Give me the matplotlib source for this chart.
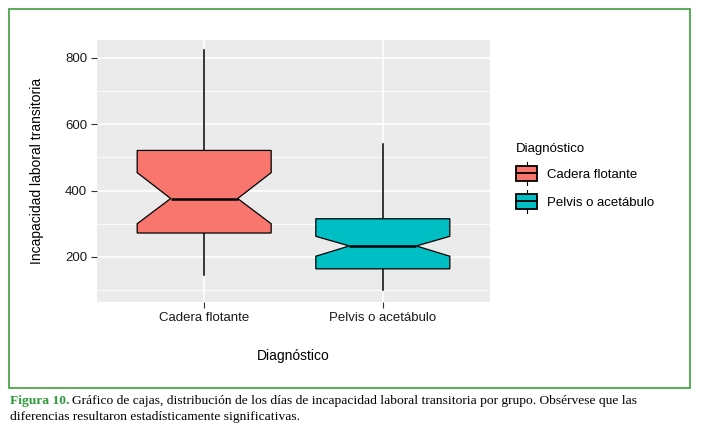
import numpy as np
import matplotlib
matplotlib.use("Agg")
import matplotlib.pyplot as plt
from matplotlib.patches import Rectangle
from matplotlib.lines import Line2D
from matplotlib.legend_handler import HandlerBase

# data
cats = ["Cadera flotante", "Pelvis o acetábulo"]
colors = ["#F8766D", "#00BFC4"]
whislo = [146, 100]
q1 = [272, 164]
med = [376, 233]
q3 = [521, 315]
whishi = [824, 539]
cilo = [300, 202]
cihi = [454, 262]
yticks = [200, 400, 600, 800]
yminor = [100, 300, 500, 700]

plt.rcParams["font.family"] = ["Liberation Sans", "DejaVu Sans"]

W, H = 702, 433
fig = plt.figure(figsize=(W / 100, H / 100), dpi=100)
ax = fig.add_axes([97 / W, 1 - 302 / H, 393 / W, 262 / H])
ax.set_facecolor("#EBEBEB")

stats = []
for i in range(len(cats)):
    stats.append(dict(med=med[i], q1=q1[i], q3=q3[i], whislo=whislo[i],
                      whishi=whishi[i], cilo=cilo[i], cihi=cihi[i],
                      fliers=[], label=cats[i]))

pos = np.arange(1, len(cats) + 1)
bp = ax.bxp(stats, positions=pos, widths=0.75, shownotches=True,
            patch_artist=True, showfliers=False, showcaps=False,
            boxprops=dict(edgecolor="black", linewidth=0.9),
            medianprops=dict(color="black", linewidth=1.8),
            whiskerprops=dict(color="black", linewidth=1.1))
for b, c in zip(bp["boxes"], colors):
    b.set_facecolor(c)
    b.set_zorder(3)
for m in bp["medians"]:
    m.set_zorder(4)

ax.set_xlim(0.4, len(cats) + 0.6)
ax.set_ylim(64, 854)
ax.set_yticks(yticks)
ax.set_yticks(yminor, minor=True)
ax.set_xticks(pos)
ax.set_xticklabels(cats)
ax.grid(True, which="major", color="white", linewidth=1.2, zorder=0)
ax.grid(True, which="minor", axis="y", color="white", linewidth=0.6, zorder=0)
ax.set_axisbelow(True)
for s in ax.spines.values():
    s.set_visible(False)
ax.tick_params(which="major", length=4, width=0.8, color="#333333",
               labelsize=9.5, labelcolor="#1a1a1a", pad=3)
ax.tick_params(which="minor", length=0)
ax.set_ylabel("Incapacidad laboral transitoria", fontsize=10, labelpad=15)
ax.set_xlabel("Diagnóstico", fontsize=10, labelpad=18)


class BoxKey(HandlerBase):
    # little boxplot glyph centred on the label text
    def create_artists(self, legend, orig, xd, yd, width, height, fontsize, trans):
        x0 = -xd
        cx = x0 + width / 2
        cy = 0.33 * fontsize
        bh = 1.12 * fontsize
        stub = 0.3 * fontsize
        r = Rectangle((x0, cy - bh / 2), width, bh,
                      facecolor=orig.get_facecolor(), edgecolor="black",
                      linewidth=1.3, transform=trans)
        mid = Line2D([x0, x0 + width], [cy, cy], color="black",
                     linewidth=1.3, transform=trans)
        up = Line2D([cx, cx], [cy + bh / 2, cy + bh / 2 + stub],
                    color="black", linewidth=0.8, transform=trans)
        dn = Line2D([cx, cx], [cy - bh / 2 - stub, cy - bh / 2],
                    color="black", linewidth=0.8, transform=trans)
        return [up, dn, r, mid]


handles = [Rectangle((0, 0), 1, 1, facecolor=c) for c in colors]
leg = fig.legend(handles, cats, title="Diagnóstico", loc="upper left",
                 bbox_to_anchor=(512 / W, 1 - 139 / H), frameon=False,
                 fontsize=9.5, title_fontsize=9.5, handler_map={Rectangle: BoxKey()},
                 handlelength=1.6, handleheight=1.8, labelspacing=0.7,
                 handletextpad=0.75, borderaxespad=0, borderpad=0.3)
leg._legend_box.align = "left"

# green frame around figure
fig.patches.append(Rectangle((9 / W, 1 - 388 / H), 681 / W, 379 / H,
                             transform=fig.transFigure, fill=False,
                             edgecolor="#3C9E3C", linewidth=1.2))

# caption
serif = ["Liberation Serif", "DejaVu Serif"]
fs = 9.7
t1 = fig.text(10 / W, 1 - 401 / H, "Figura 10.", fontsize=fs, family=serif,
              weight="bold", color="#2E9A3A", va="center")
fig.canvas.draw()
bb = t1.get_window_extent()
fig.text((bb.x1 + 3) / W, 1 - 401 / H,
         "Gráfico de cajas, distribución de los días de incapacidad laboral "
         "transitoria por grupo. Obsérvese que las",
         fontsize=fs, family=serif, color="black", va="center")
fig.text(10 / W, 1 - 417 / H,
         "diferencias resultaron estadísticamente significativas.",
         fontsize=fs, family=serif, color="black", va="center")

fig.savefig("out.png", dpi=100)
